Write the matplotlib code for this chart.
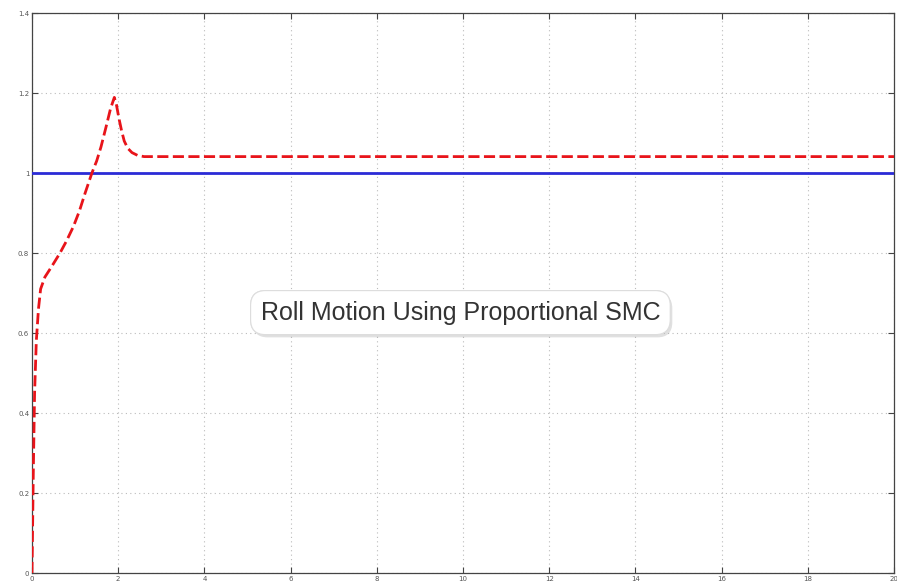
import matplotlib
matplotlib.use("Agg")
import matplotlib.pyplot as plt
import matplotlib.patheffects as pe

# roll angle response
t = [0, 0.03, 0.06, 0.1, 0.15, 0.2, 0.3, 0.45, 0.65, 0.8, 0.96, 1.1, 1.23,
     1.39, 1.5, 1.6, 1.72, 1.82, 1.91, 1.96, 2.02, 2.08, 2.14, 2.22, 2.32,
     2.45, 2.6, 4, 8, 12, 16, 20]
roll = [0, 0.25, 0.45, 0.58, 0.66, 0.71, 0.74, 0.765, 0.80, 0.83, 0.866,
        0.905, 0.949, 1.0, 1.03, 1.065, 1.116, 1.16, 1.189, 1.17, 1.135,
        1.105, 1.08, 1.062, 1.051, 1.044, 1.041, 1.041, 1.041, 1.041,
        1.041, 1.041]

# reference setpoint
ref_t = [0, 20]
ref_val = [1, 1]

x_ticks = list(range(0, 21, 2))
y_ticks = [0, 0.2, 0.4, 0.6, 0.8, 1, 1.2, 1.4]
y_labels = ["0", "0.2", "0.4", "0.6", "0.8", "1", "1.2", "1.4"]
title = "Roll Motion Using Proportional SMC"

fig = plt.figure(figsize=(8.97, 5.86), dpi=100)
ax = fig.add_axes([32 / 897, 13 / 586, 862 / 897, 560 / 586])

ax.plot(ref_t, ref_val, color="#2b2bd6", lw=2.0, zorder=3)
ax.plot(t, roll, color="#e8141a", lw=2.0, ls=(0, (4, 1.6)), zorder=4)

ax.set_xlim(0, 20)
ax.set_ylim(0, 1.4)
ax.set_xticks(x_ticks)
ax.set_yticks(y_ticks)
ax.set_yticklabels(y_labels)
ax.grid(True, ls=(0, (1, 3)), color="#bbbbbb", lw=0.8)
ax.tick_params(direction="in", length=4, width=0.8, top=True, right=True,
               labelsize=5, labelcolor="#555555", color="#444444", pad=2)
for s in ax.spines.values():
    s.set_color("#444444")
    s.set_linewidth(0.9)

txt = ax.text(0.497, 0.465, title, transform=ax.transAxes, ha="center",
              va="center", fontsize=18, family="Liberation Sans",
              color="#333333", zorder=6,
              bbox=dict(boxstyle="round,pad=0.4,rounding_size=0.6",
                        fc="white", ec="#dddddd", lw=0.8))
txt.get_bbox_patch().set_path_effects(
    [pe.withSimplePatchShadow(offset=(1.5, -2), shadow_rgbFace="#999999",
                              alpha=0.3), pe.Normal()])

fig.savefig("out.png", dpi=100)
